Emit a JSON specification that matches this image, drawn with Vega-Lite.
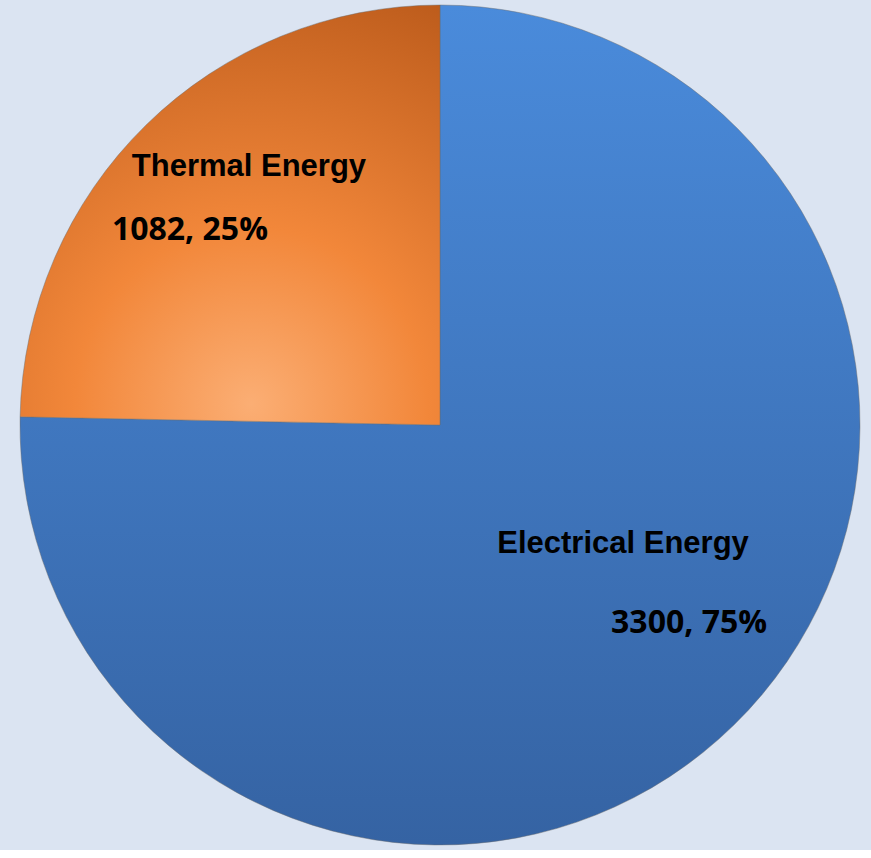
{
  "$schema": "https://vega.github.io/schema/vega-lite/v6.json",
  "width": 870,
  "height": 850,
  "autosize": {"type": "none"},
  "padding": {"left": 5, "top": 0, "right": 0, "bottom": 0},
  "background": "#dbe4f2",
  "config": {"view": {"stroke": null}},
  "data": {
    "values": [
      {"category": "Electrical Energy", "value": 3300, "label": "3300, 75%"},
      {"category": "Thermal Energy", "value": 1082, "label": "1082, 25%"}
    ]
  },
  "encoding": {
    "theta": {"field": "value", "type": "quantitative", "stack": true},
    "detail": {"field": "category", "type": "nominal"},
    "order": {"field": "value", "type": "quantitative", "sort": "descending"}
  },
  "layer": [
    {
      "mark": {"type": "arc", "outerRadius": 420, "stroke": "#6d6d6d", "strokeOpacity": 0.45, "strokeWidth": 1},
      "encoding": {
        "fill": {
          "condition": {
            "test": "datum.category === 'Thermal Energy'",
            "value": {
              "gradient": "radial",
              "x1": 0.55, "y1": 0.95, "r1": 0,
              "x2": 0.55, "y2": 0.95, "r2": 1.05,
              "stops": [
                {"offset": 0, "color": "#fbae74"},
                {"offset": 0.4, "color": "#f2873a"},
                {"offset": 1, "color": "#bd5c1c"}
              ]
            }
          },
          "value": {
            "gradient": "linear",
            "x1": 0.5, "y1": 0, "x2": 0.5, "y2": 1,
            "stops": [
              {"offset": 0, "color": "#4a8bdb"},
              {"offset": 1, "color": "#3563a3"}
            ]
          }
        }
      }
    },
    {
      "mark": {"type": "text", "radius": 330, "dx": 40, "dy": -22, "font": "Liberation Sans", "fontWeight": "bold", "fontSize": 31, "align": "center", "baseline": "middle", "color": "#000000"},
      "encoding": {"text": {"condition": {"test": "datum.category === 'Thermal Energy'", "field": "category"}, "value": ""}}
    },
    {
      "mark": {"type": "text", "radius": 330, "dx": -19, "dy": 41, "font": "Open Sans", "fontWeight": "bold", "fontSize": 32, "align": "center", "baseline": "middle", "color": "#000000"},
      "encoding": {"text": {"condition": {"test": "datum.category === 'Thermal Energy'", "field": "label"}, "value": ""}}
    },
    {
      "mark": {"type": "text", "radius": 250, "dx": 8, "dy": -59, "font": "Liberation Sans", "fontWeight": "bold", "fontSize": 31, "align": "center", "baseline": "middle", "color": "#000000"},
      "encoding": {"text": {"condition": {"test": "datum.category === 'Electrical Energy'", "field": "category"}, "value": ""}}
    },
    {
      "mark": {"type": "text", "radius": 250, "dx": 74, "dy": 20, "font": "Open Sans", "fontWeight": "bold", "fontSize": 32, "align": "center", "baseline": "middle", "color": "#000000"},
      "encoding": {"text": {"condition": {"test": "datum.category === 'Electrical Energy'", "field": "label"}, "value": ""}}
    }
  ]
}
